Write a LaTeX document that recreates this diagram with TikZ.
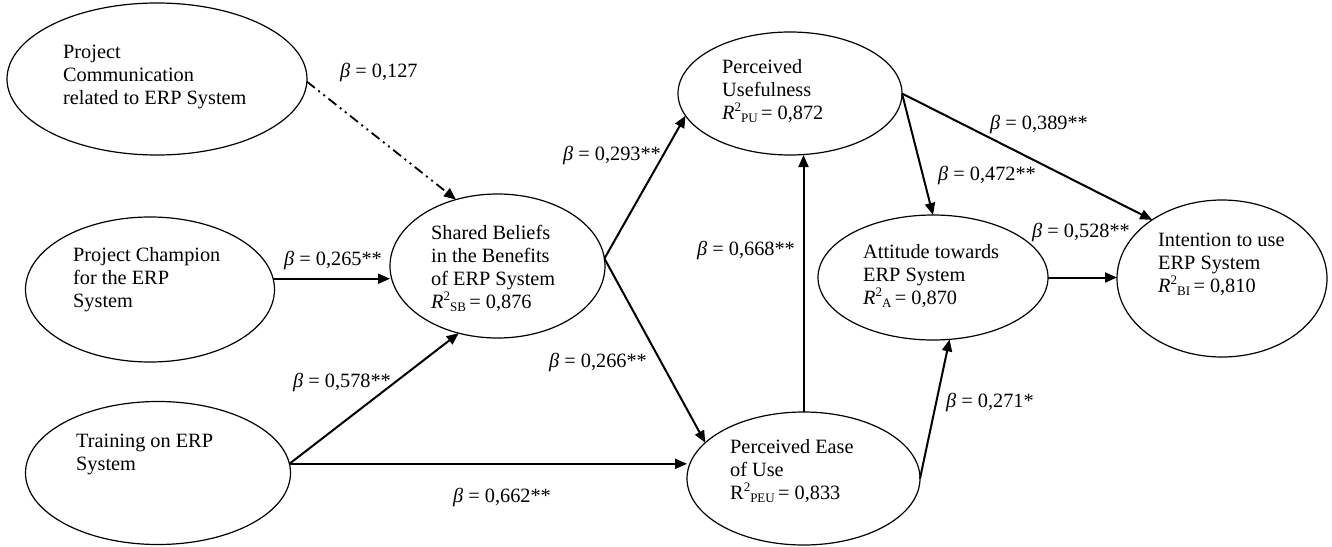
\documentclass[tikz,border=0pt]{standalone}
\usepackage{fontspec}
\setmainfont{Liberation Serif}
\usetikzlibrary{shapes.geometric,arrows.meta}
\newcommand{\rsq}[2]{#1\raisebox{8.5pt}{\fontsize{13}{13}\selectfont 2}\raisebox{-3pt}{\fontsize{13}{13}\selectfont #2}\,= }
\newcommand{\bt}{\textit{β} = }
\begin{document}
\begin{tikzpicture}[x=1pt,y=-1pt,
  ell/.style={ellipse, draw, line width=1.2pt, inner sep=0pt, outer sep=0pt},
  txt/.style={anchor=north west, align=left, inner sep=0pt, font=\fontsize{20.3}{23}\selectfont},
  lbl/.style={anchor=base west, inner sep=0pt, font=\fontsize{20.3}{23}\selectfont},
  arr/.style={line width=2pt, -{Triangle[length=12pt,width=10pt]}},
  dd/.style={arr, line width=1.8pt, dash pattern=on 10pt off 4.5pt on 2pt off 4.5pt on 2pt off 4.5pt}
]
\useasboundingbox (0,0) rectangle (1332,546);

% ellipses
\node[ell, minimum width=300pt, minimum height=152pt] (pc) at (157,79) {};
\node[ell, minimum width=249pt, minimum height=145pt] (champ) at (150,289.5) {};
\node[ell, minimum width=265pt, minimum height=143pt] (train) at (158,473) {};
\node[ell, minimum width=215pt, minimum height=144pt] (sb) at (497.5,266) {};
\node[ell, minimum width=224pt, minimum height=123pt] (pu) at (790,93.5) {};
\node[ell, minimum width=233pt, minimum height=133pt] (peu) at (803.5,478.5) {};
\node[ell, minimum width=230pt, minimum height=125pt] (att) at (933,277.5) {};
\node[ell, minimum width=210pt, minimum height=157pt] (int) at (1222,278.5) {};

% texts
\node[txt] (pctext) at (63,41.9) {\strut Project\\ Communication\\ related to ERP System};
\node[txt] (champtext) at (73,245.6) {\strut Project Champion\\ for the ERP\\ System};
\node[txt] (traintext) at (76,431.6) {\strut Training on ERP\\ System};
\node[txt] (sbtext) at (431,223.2) {\strut Shared Beliefs\\ in the Benefits\\ of ERP System\\ \rsq{\textit{R}}{SB}0,876};
\node[txt] (putext) at (722,57.2) {\strut Perceived\\ Usefulness\\ \rsq{\textit{R}}{PU}0,872};
\node[txt] (peutext) at (730,437.2) {\strut Perceived Ease\\ of Use\\ \rsq{R}{PEU}0,833};
\node[txt] (atttext) at (863,242.2) {\strut Attitude towards\\ ERP System\\ \rsq{\textit{R}}{A}0,870};
\node[txt] (inttext) at (1158,230.6) {\strut Intention to use\\ ERP System\\ \rsq{\textit{R}}{BI}0,810};

% connectors
\draw[dd] (pc.-1) -- (sb.122);
\draw[arr] (champ.5) -- (champ.5 -| sb.west);
\draw[arr] (train.4) -- (sb.240);
\draw[arr] (train.4) -- (train.4 -| peu.west);
\draw[arr] (sb.4) -- (pu.192);
\draw[arr] (sb.4) -- (peu.160);
\draw[arr] (peu.north) -- (peu.north |- pu.south);
\draw[arr] (pu.east) -- (att.north);
\draw[arr] (pu.east) -- (int.140);
\draw[arr] (att.east) -- (att.east -| int.west);
\draw[arr] (peu.east) -- (att.-75);

% labels
\node[lbl] (l127) at (340,77) {\bt 0,127};
\node[lbl] (l265) at (284,265) {\bt 0,265**};
\node[lbl] (l578) at (293,387) {\bt 0,578**};
\node[lbl] (l662) at (453,502) {\bt 0,662**};
\node[lbl] (l293) at (563,160) {\bt 0,293**};
\node[lbl] (l266) at (549,367) {\bt 0,266**};
\node[lbl] (l668) at (697,255) {\bt 0,668**};
\node[lbl] (l472) at (938,180) {\bt 0,472**};
\node[lbl] (l389) at (990,129) {\bt 0,389**};
\node[lbl] (l528) at (1032,237) {\bt 0,528**};
\node[lbl] (l271) at (946,407) {\bt 0,271*};
\end{tikzpicture}
\end{document}
